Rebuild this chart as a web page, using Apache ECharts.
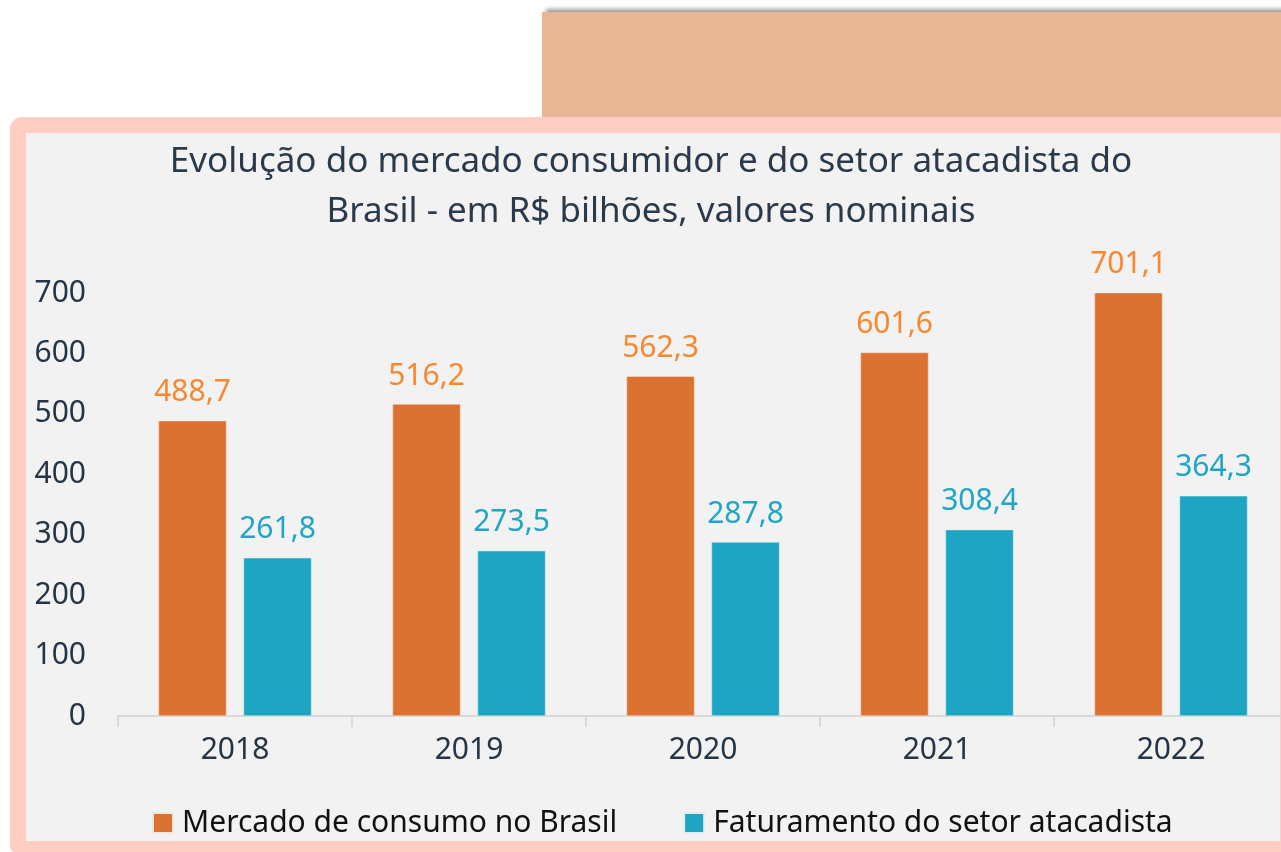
<!DOCTYPE html>
<html>
<head>
<meta charset="utf-8">
<script src="https://cdn.jsdelivr.net/npm/echarts@6/dist/echarts.min.js"></script>
<style>
html,body{margin:0;padding:0;width:1281px;height:852px;overflow:hidden;background:#ffffff;position:relative;}
#peach{position:absolute;left:542px;top:12px;width:760px;height:105px;background:#e9b796;box-shadow:2px -5px 4px -2px rgba(0,0,0,0.4);}
#panel{position:absolute;left:10px;top:117px;width:1286px;height:740px;background:#ffcdc2;border-radius:12px;}
#inner{position:absolute;left:26px;top:133px;width:1254px;height:708px;background:#f2f2f2;}
#chart{position:absolute;left:0;top:0;width:1300px;height:852px;}
</style>
</head>
<body>
<div id="peach"></div>
<div id="panel"></div>
<div id="inner"></div>
<div id="chart"></div>
<script>
const categories = ['2018', '2019', '2020', '2021', '2022'];
const mercadoConsumo = [488.7, 516.2, 562.3, 601.6, 701.1];
const faturamentoAtacado = [261.8, 273.5, 287.8, 308.4, 364.3];
const seriesNames = ['Mercado de consumo no Brasil', 'Faturamento do setor atacadista'];
const titleText = 'Evolução do mercado consumidor e do setor atacadista do\nBrasil - em R$ bilhões, valores nominais';

const FONT = '"Noto Sans", "Open Sans", sans-serif';
const fmt = v => v.toFixed(1).replace('.', ',');

const chart = echarts.init(document.getElementById('chart'), null, {renderer: 'canvas'});
chart.setOption({
  backgroundColor: 'transparent',
  animation: false,
  title: {
    text: titleText,
    left: 651,
    top: 137,
    padding: 0,
    textAlign: 'center',
    textStyle: {fontFamily: FONT, fontSize: 35, fontWeight: 'normal', color: '#2b3a4b', lineHeight: 50}
  },
  legend: {
    data: seriesNames,
    left: 152,
    top: 808,
    padding: 0,
    itemWidth: 20,
    itemHeight: 20,
    itemGap: 66,
    icon: 'rect',
    textStyle: {fontFamily: FONT, fontSize: 30, color: '#111111', padding: [0, 0, 0, 4]}
  },
  grid: {left: 118, top: 293, width: 1170, height: 423, containLabel: false},
  xAxis: {
    type: 'category',
    data: categories,
    axisLine: {lineStyle: {color: '#d9d9d9', width: 2}},
    axisTick: {show: true, length: 11, lineStyle: {color: '#d9d9d9', width: 2}},
    axisLabel: {fontFamily: FONT, fontSize: 30, color: '#253545', margin: 19}
  },
  yAxis: {
    type: 'value',
    min: 0,
    max: 700,
    interval: 100,
    axisLine: {show: false},
    axisTick: {show: false},
    splitLine: {show: false},
    axisLabel: {fontFamily: FONT, fontSize: 30, color: '#253545', margin: 32}
  },
  series: [
    {
      name: seriesNames[0],
      type: 'bar',
      data: mercadoConsumo,
      barWidth: 68,
      barGap: '25%',
      itemStyle: {color: '#dc7231', borderColor: '#f4e6dc', borderWidth: 0.5},
      label: {show: true, position: 'top', distance: 13, formatter: p => fmt(p.value),
        fontFamily: FONT, fontSize: 30, color: '#f7882f'}
    },
    {
      name: seriesNames[1],
      type: 'bar',
      data: faturamentoAtacado,
      barWidth: 68,
      itemStyle: {color: '#1ea5c3', borderColor: '#dceef2', borderWidth: 0.5},
      label: {show: true, position: 'top', distance: 13, formatter: p => fmt(p.value),
        fontFamily: FONT, fontSize: 30, color: '#1ea6c4'}
    }
  ]
});
</script>
</body>
</html>
